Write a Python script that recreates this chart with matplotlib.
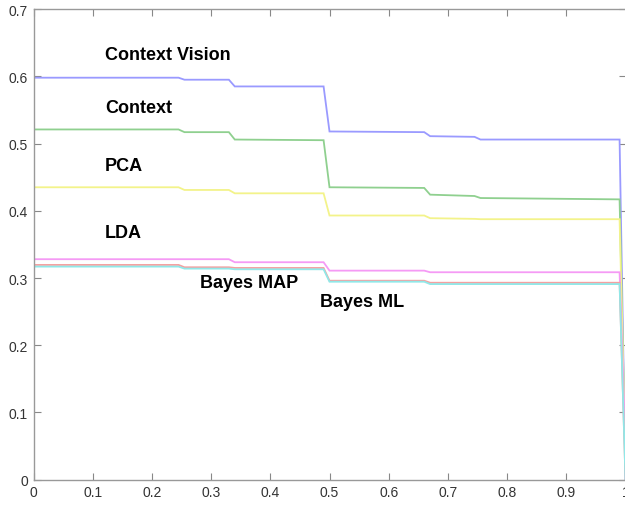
import matplotlib
matplotlib.use("Agg")
import matplotlib.pyplot as plt

# Shared x grid (fraction axis)
x = [0.0, 0.245, 0.255, 0.33, 0.34, 0.49, 0.50, 0.66, 0.67, 0.745, 0.755, 0.99, 1.0]

context_vision = [0.598, 0.598, 0.595, 0.595, 0.585, 0.585, 0.518, 0.517, 0.511, 0.510, 0.506, 0.506, 0.0]
context        = [0.521, 0.521, 0.517, 0.517, 0.506, 0.505, 0.435, 0.434, 0.424, 0.422, 0.419, 0.417, 0.02]
pca            = [0.435, 0.435, 0.431, 0.431, 0.426, 0.426, 0.393, 0.393, 0.389, 0.388, 0.3875, 0.3875, 0.03]
lda            = [0.328, 0.328, 0.328, 0.328, 0.3235, 0.3235, 0.311, 0.311, 0.3086, 0.3086, 0.3086, 0.3086, 0.05]
bayes_map      = [0.3195, 0.3195, 0.316, 0.316, 0.315, 0.315, 0.296, 0.296, 0.293, 0.293, 0.293, 0.293, 0.0]
bayes_ml       = [0.317, 0.317, 0.314, 0.314, 0.313, 0.313, 0.2945, 0.2945, 0.291, 0.291, 0.291, 0.291, 0.0]

series = [context_vision, context, pca, lda, bayes_map, bayes_ml]
colors = ["#9a9aff", "#8fd08f", "#f3f38a", "#f59af5", "#f5a0a0", "#90e8e8"]

labels = ["Context Vision", "Context", "PCA", "LDA", "Bayes MAP", "Bayes ML"]
label_x = [0.121, 0.121, 0.121, 0.121, 0.281, 0.484]
label_y = [0.633, 0.554, 0.468, 0.368, 0.294, 0.2645]

xticks = [0, 0.1, 0.2, 0.3, 0.4, 0.5, 0.6, 0.7, 0.8, 0.9, 1]
xticklabels = ["0", "0.1", "0.2", "0.3", "0.4", "0.5", "0.6", "0.7", "0.8", "0.9", "1"]
yticks = [0, 0.1, 0.2, 0.3, 0.4, 0.5, 0.6, 0.7]
yticklabels = ["0", "0.1", "0.2", "0.3", "0.4", "0.5", "0.6", "0.7"]

plt.rcParams['font.family'] = ['Liberation Sans', 'DejaVu Sans']

fig = plt.figure(figsize=(6.25, 5.06), dpi=100)
ax = fig.add_axes([0.0536, 0.05, 0.9472, 0.930])

for s, c in zip(series, colors):
    ax.plot(x, s, color=c, lw=1.3, solid_joinstyle='miter')

for t, tx, ty in zip(labels, label_x, label_y):
    ax.text(tx, ty, t, fontsize=13, fontweight='bold', color='black', va='center', ha='left')

ax.set_xlim(0, 1)
ax.set_ylim(0, 0.7)
ax.set_xticks(xticks)
ax.set_xticklabels(xticklabels)
ax.set_yticks(yticks)
ax.set_yticklabels(yticklabels)
ax.tick_params(direction='in', length=5, width=0.8, color='#888888',
               labelsize=10, labelcolor='#333333', top=True, right=True, pad=4)
for sp in ax.spines.values():
    sp.set_color('#999999')
    sp.set_linewidth(1.0)

fig.savefig("out.png", dpi=100)
